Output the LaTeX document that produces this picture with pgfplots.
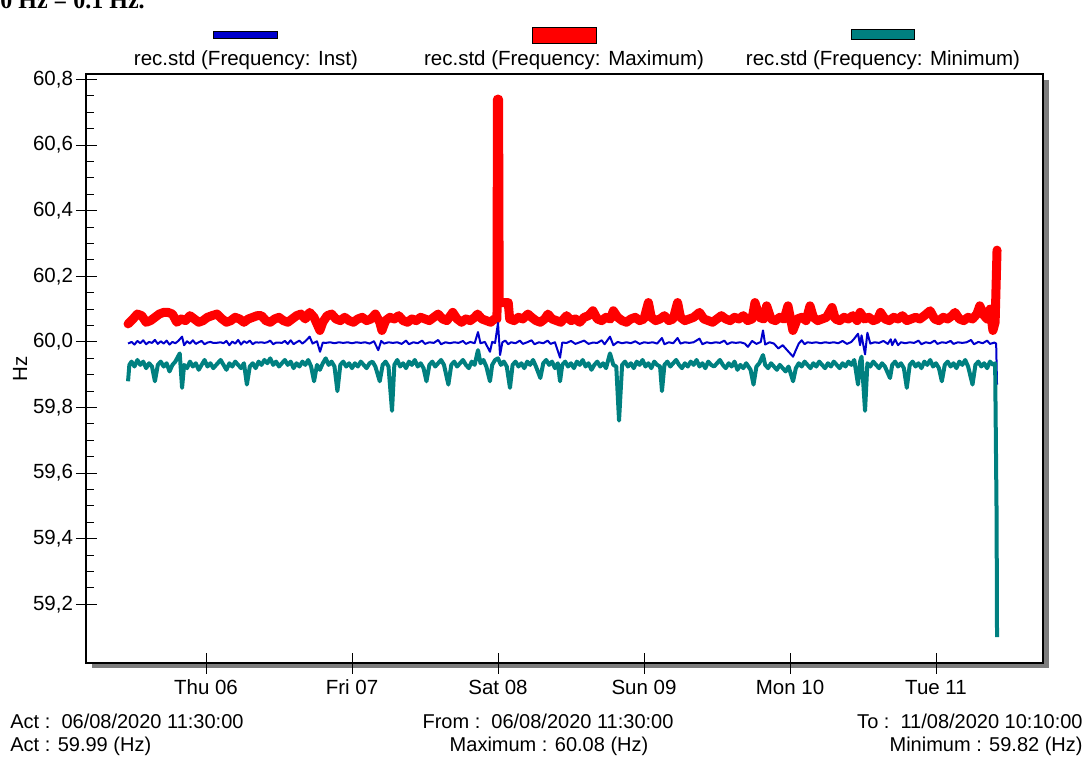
\documentclass[border=0pt]{standalone}
\usepackage{fontspec}
\setmainfont{Liberation Sans}
\newfontfamily\serifbold{Liberation Serif}
\usepackage{pgfplots}
\pgfplotsset{compat=1.18}
\usepackage{pgfplotstable}
\definecolor{instblue}{RGB}{0,0,204}
\definecolor{maxred}{RGB}{255,0,0}
\definecolor{minteal}{RGB}{0,128,128}
\definecolor{shadowgray}{RGB}{125,125,125}

\pgfplotstableread{
x y
5.466 60.055
5.50 60.07
5.53 60.085
5.56 60.08
5.59 60.06
5.62 60.065
5.65 60.075
5.68 60.085
5.71 60.09
5.74 60.09
5.77 60.085
5.80 60.06
5.83 60.07
5.86 60.065
5.89 60.08
5.92 60.07
5.95 60.06
5.98 60.065
6.01 60.075
6.04 60.08
6.075 60.085
6.11 60.07
6.14 60.06
6.17 60.065
6.20 60.075
6.23 60.07
6.26 60.06
6.29 60.07
6.32 60.075
6.35 60.08
6.38 60.08
6.41 60.065
6.44 60.06
6.47 60.07
6.50 60.075
6.53 60.065
6.56 60.06
6.59 60.07
6.62 60.08
6.65 60.085
6.68 60.07
6.71 60.09
6.74 60.075
6.78 60.035
6.80 60.06
6.83 60.08
6.86 60.085
6.89 60.07
6.92 60.065
6.95 60.075
6.98 60.065
7.01 60.06
7.04 60.07
7.07 60.075
7.10 60.065
7.13 60.07
7.16 60.085
7.19 60.06
7.205 60.035
7.23 60.065
7.26 60.075
7.29 60.07
7.32 60.08
7.35 60.065
7.38 60.06
7.41 60.07
7.44 60.065
7.47 60.075
7.50 60.07
7.53 60.065
7.56 60.075
7.59 60.085
7.62 60.07
7.65 60.065
7.69 60.09
7.72 60.07
7.75 60.06
7.78 60.07
7.81 60.065
7.84 60.075
7.86 60.085
7.89 60.07
7.92 60.065
7.95 60.06
7.975 60.07
7.993 60.07
7.996 60.74
8.004 60.74
8.008 60.12
8.07 60.12
8.08 60.07
8.11 60.065
8.14 60.075
8.17 60.07
8.205 60.085
8.23 60.075
8.26 60.065
8.29 60.06
8.32 60.07
8.342 60.085
8.37 60.07
8.40 60.065
8.43 60.06
8.47 60.08
8.50 60.065
8.53 60.07
8.56 60.06
8.59 60.075
8.62 60.08
8.65 60.095
8.68 60.07
8.71 60.065
8.74 60.075
8.77 60.07
8.79 60.095
8.82 60.075
8.85 60.065
8.88 60.06
8.91 60.07
8.94 60.075
8.97 60.065
9.00 60.07
9.03 60.12
9.05 60.075
9.08 60.065
9.11 60.07
9.14 60.08
9.17 60.065
9.20 60.07
9.23 60.12
9.25 60.075
9.28 60.065
9.31 60.07
9.34 60.075
9.38 60.09
9.41 60.07
9.44 60.065
9.47 60.06
9.50 60.07
9.53 60.08
9.56 60.07
9.59 60.065
9.62 60.075
9.65 60.07
9.68 60.08
9.71 60.065
9.74 60.07
9.76 60.12
9.79 60.075
9.82 60.07
9.84 60.11
9.87 60.07
9.90 60.065
9.93 60.075
9.96 60.07
9.986 60.11
10.02 60.035
10.05 60.07
10.08 60.075
10.11 60.065
10.137 60.11
10.16 60.075
10.19 60.065
10.22 60.07
10.25 60.075
10.288 60.105
10.31 60.07
10.34 60.065
10.37 60.075
10.40 60.07
10.43 60.08
10.46 60.065
10.48 60.09
10.51 60.07
10.54 60.075
10.57 60.065
10.60 60.07
10.62 60.09
10.65 60.07
10.68 60.065
10.71 60.075
10.74 60.07
10.77 60.08
10.80 60.065
10.83 60.07
10.86 60.075
10.89 60.07
10.92 60.08
10.96 60.095
10.99 60.07
11.02 60.065
11.05 60.075
11.08 60.07
11.11 60.08
11.13 60.09
11.16 60.07
11.19 60.065
11.22 60.075
11.25 60.07
11.28 60.085
11.30 60.11
11.33 60.08
11.35 60.07
11.37 60.10
11.39 60.035
11.405 60.06
11.418 60.28
}\tmax

\pgfplotstableread{
x y
5.466 59.995
5.49 60.000
5.51 59.992
5.53 60.003
5.55 59.996
5.57 60.005
5.59 59.993
5.61 60.000
5.63 59.997
5.65 60.006
5.67 59.994
5.69 60.002
5.71 59.995
5.73 60.004
5.75 59.992
5.77 60.000
5.79 59.996
5.81 60.003
5.836 60.016
5.85 59.990
5.87 60.002
5.89 59.995
5.91 60.005
5.93 59.994
5.95 59.999
5.97 60.003
5.99 59.993
6.01 59.998
6.03 60.000
6.05 59.997
6.07 59.997
6.10 59.999
6.12 59.996
6.14 60.003
6.16 59.990
6.18 60.001
6.20 59.995
6.22 60.006
6.24 59.992
6.26 60.002
6.28 59.997
6.30 60.004
6.32 59.993
6.34 59.999
6.36 59.998
6.38 59.999
6.40 59.997
6.42 59.999
6.44 60.004
6.46 59.993
6.48 59.998
6.50 59.998
6.52 59.997
6.54 60.003
6.56 59.994
6.58 60.005
6.60 59.993
6.62 59.999
6.64 60.004
6.66 59.995
6.68 60.002
6.71 60.016
6.73 59.995
6.76 60.002
6.781 59.970
6.80 59.998
6.82 59.997
6.85 59.999
6.88 59.996
6.91 59.999
6.94 59.997
6.97 59.999
7.00 59.996
7.03 59.999
7.06 59.997
7.09 59.999
7.12 59.995
7.15 60.002
7.18 59.975
7.20 60.003
7.22 59.995
7.25 59.999
7.28 59.997
7.31 59.999
7.34 59.994
7.37 60.004
7.39 59.993
7.42 59.999
7.45 59.996
7.48 60.004
7.50 59.994
7.53 59.999
7.56 59.997
7.59 60.006
7.61 59.993
7.64 59.999
7.67 59.996
7.70 59.999
7.73 59.997
7.76 60.003
7.78 59.994
7.81 60.000
7.84 59.996
7.863 60.030
7.88 59.996
7.91 60.000
7.945 59.970
7.96 60.000
7.98 59.997
8.000 60.058
8.014 59.960
8.03 59.999
8.05 60.004
8.07 59.993
8.09 59.999
8.12 59.996
8.15 60.004
8.17 59.994
8.20 59.999
8.23 60.005
8.25 59.993
8.28 59.999
8.31 59.996
8.34 60.004
8.36 59.994
8.39 59.999
8.425 59.952
8.44 59.998
8.47 59.997
8.50 60.003
8.53 59.994
8.56 59.999
8.59 60.004
8.62 59.994
8.65 59.998
8.68 59.997
8.71 60.005
8.73 59.993
8.767 60.016
8.79 59.990
8.82 60.000
8.85 59.996
8.88 59.999
8.91 59.996
8.94 60.002
8.97 59.994
9.00 59.999
9.03 59.997
9.06 59.999
9.09 59.995
9.123 60.012
9.14 59.993
9.17 59.999
9.20 59.996
9.23 60.012
9.25 59.995
9.28 59.999
9.31 59.997
9.34 59.999
9.38 60.010
9.40 59.993
9.43 59.999
9.46 59.996
9.49 59.999
9.52 59.997
9.55 60.004
9.57 59.993
9.60 59.999
9.63 59.997
9.66 59.999
9.69 59.995
9.712 59.985
9.74 60.003
9.77 59.994
9.80 60.000
9.815 60.035
9.83 59.992
9.86 59.999
9.89 59.995
9.92 59.980
9.95 59.990
9.98 59.975
10.021 59.955
10.04 59.975
10.06 59.995
10.08 60.005
10.10 59.993
10.12 59.999
10.15 59.997
10.18 59.999
10.21 59.996
10.24 59.999
10.27 59.997
10.30 59.999
10.33 59.996
10.36 60.003
10.39 59.994
10.42 60.000
10.44 60.010
10.466 60.025
10.48 59.990
10.49 60.020
10.514 59.962
10.53 60.028
10.55 59.995
10.58 59.999
10.61 59.997
10.64 60.003
10.67 59.994
10.69 60.008
10.70 59.990
10.72 60.008
10.74 59.990
10.76 59.999
10.79 59.996
10.82 59.999
10.85 59.997
10.88 60.004
10.90 59.993
10.93 59.999
10.96 59.996
10.99 60.004
11.01 59.994
11.04 59.999
11.07 59.997
11.10 60.003
11.12 59.994
11.15 59.999
11.18 59.997
11.21 59.999
11.24 60.006
11.26 59.993
11.29 60.000
11.32 59.996
11.35 60.004
11.37 59.994
11.40 59.998
11.412 59.995
11.418 59.870
}\tinst

\pgfplotstableread{
x y
5.466 59.880
5.475 59.930
5.49 59.940
5.51 59.925
5.53 59.945
5.55 59.930
5.57 59.940
5.59 59.920
5.61 59.935
5.63 59.925
5.65 59.880
5.67 59.930
5.69 59.940
5.71 59.925
5.73 59.935
5.75 59.910
5.77 59.930
5.79 59.940
5.82 59.965
5.836 59.860
5.85 59.930
5.87 59.920
5.89 59.940
5.91 59.925
5.93 59.935
5.95 59.915
5.97 59.930
5.99 59.945
6.01 59.925
6.03 59.935
6.05 59.920
6.07 59.930
6.10 59.945
6.12 59.930
6.14 59.915
6.16 59.935
6.18 59.925
6.20 59.940
6.22 59.930
6.24 59.920
6.26 59.935
6.28 59.870
6.30 59.925
6.32 59.935
6.34 59.920
6.36 59.940
6.38 59.930
6.40 59.945
6.42 59.935
6.44 59.950
6.46 59.930
6.48 59.940
6.50 59.925
6.52 59.935
6.54 59.945
6.56 59.930
6.58 59.940
6.60 59.920
6.62 59.935
6.64 59.925
6.66 59.940
6.68 59.930
6.70 59.945
6.72 59.925
6.74 59.880
6.76 59.930
6.78 59.915
6.80 59.935
6.82 59.950
6.84 59.930
6.86 59.940
6.88 59.925
6.90 59.850
6.92 59.930
6.94 59.940
6.96 59.925
6.98 59.935
7.00 59.920
7.02 59.935
7.04 59.925
7.06 59.940
7.08 59.930
7.10 59.920
7.12 59.935
7.14 59.940
7.16 59.925
7.19 59.880
7.21 59.930
7.23 59.940
7.25 59.925
7.274 59.790
7.29 59.930
7.31 59.945
7.33 59.925
7.35 59.935
7.37 59.920
7.39 59.940
7.41 59.930
7.43 59.945
7.45 59.925
7.47 59.935
7.49 59.920
7.51 59.880
7.53 59.930
7.55 59.940
7.57 59.925
7.59 59.935
7.61 59.945
7.63 59.930
7.66 59.870
7.68 59.930
7.70 59.940
7.72 59.925
7.74 59.935
7.76 59.945
7.78 59.930
7.80 59.920
7.82 59.940
7.84 59.930
7.863 59.975
7.88 59.935
7.90 59.945
7.92 59.925
7.945 59.880
7.96 59.930
7.98 59.945
8.00 59.950
8.02 59.930
8.04 59.940
8.06 59.925
8.082 59.860
8.10 59.930
8.12 59.940
8.14 59.925
8.16 59.935
8.18 59.920
8.20 59.940
8.22 59.930
8.24 59.945
8.26 59.925
8.29 59.890
8.31 59.935
8.33 59.945
8.35 59.930
8.37 59.940
8.39 59.920
8.41 59.935
8.425 59.880
8.44 59.930
8.46 59.940
8.48 59.925
8.50 59.935
8.52 59.920
8.54 59.940
8.56 59.930
8.58 59.945
8.60 59.925
8.62 59.935
8.64 59.915
8.66 59.930
8.68 59.940
8.70 59.925
8.72 59.935
8.74 59.920
8.767 59.965
8.79 59.930
8.81 59.925
8.829 59.760
8.85 59.930
8.87 59.940
8.89 59.925
8.91 59.935
8.93 59.920
8.95 59.940
8.97 59.930
8.99 59.945
9.01 59.925
9.03 59.935
9.05 59.920
9.07 59.940
9.09 59.930
9.11 59.925
9.123 59.850
9.14 59.930
9.16 59.940
9.18 59.925
9.20 59.935
9.22 59.945
9.24 59.930
9.26 59.920
9.28 59.935
9.30 59.925
9.32 59.940
9.34 59.930
9.36 59.945
9.38 59.925
9.40 59.935
9.42 59.920
9.44 59.940
9.46 59.930
9.48 59.925
9.50 59.935
9.52 59.945
9.54 59.930
9.56 59.920
9.58 59.935
9.60 59.925
9.62 59.940
9.64 59.915
9.66 59.930
9.68 59.920
9.70 59.935
9.73 59.915
9.75 59.870
9.77 59.925
9.79 59.935
9.815 59.960
9.83 59.930
9.85 59.920
9.87 59.935
9.89 59.925
9.91 59.915
9.93 59.930
9.95 59.920
9.97 59.910
9.99 59.925
10.021 59.880
10.04 59.920
10.06 59.935
10.08 59.925
10.10 59.940
10.12 59.930
10.14 59.920
10.16 59.935
10.18 59.925
10.20 59.940
10.22 59.930
10.24 59.920
10.26 59.935
10.28 59.925
10.30 59.940
10.32 59.930
10.34 59.920
10.36 59.935
10.38 59.925
10.40 59.940
10.42 59.930
10.44 59.945
10.466 59.870
10.48 59.940
10.49 59.955
10.514 59.790
10.53 59.935
10.55 59.925
10.57 59.940
10.59 59.930
10.61 59.920
10.63 59.935
10.65 59.925
10.685 59.890
10.70 59.930
10.72 59.940
10.74 59.925
10.76 59.935
10.78 59.920
10.80 59.860
10.82 59.930
10.84 59.940
10.86 59.925
10.88 59.935
10.90 59.920
10.92 59.940
10.94 59.930
10.96 59.945
10.98 59.925
11.00 59.935
11.02 59.920
11.04 59.880
11.06 59.930
11.08 59.940
11.10 59.925
11.12 59.935
11.14 59.920
11.16 59.940
11.18 59.930
11.20 59.945
11.22 59.925
11.25 59.870
11.27 59.930
11.29 59.940
11.31 59.925
11.33 59.935
11.35 59.920
11.37 59.940
11.39 59.930
11.405 59.935
11.415 59.470
11.418 59.100
}\tmin

\tikzset{px/.style={shift={(-43pt,331.5pt)}, x=0.5pt, y=-0.5pt}}

\begin{document}
\begin{tikzpicture}
% drop shadow of the plot frame
\begin{scope}[px]
\fill[shadowgray] (1044,80) rectangle (1049,668);
\fill[shadowgray] (92,664) rectangle (1049,668);
\end{scope}

\begin{axis}[
  at={(0,0)}, anchor=south west,
  scale only axis,
  width=478.5pt, height=294.5pt,
  xmin=5.178, xmax=11.733,
  ymin=59.021, ymax=60.817,
  axis line style={line width=1.2pt, black},
  xtick={6,7,8,9,10,11},
  xticklabels={Thu 06, Fri 07, Sat 08, Sun 09, Mon 10, Tue 11},
  ytick={59.2,59.4,59.6,59.8,60.0,60.2,60.4,60.6,60.8},
  minor y tick num=3,
  xtick pos=bottom, ytick pos=left,
  tick align=inside,
  every tick/.style={black, line width=0.5pt},
  major tick length=10.5pt,
  minor tick length=4pt,
  every major y tick/.append style={xshift=-5pt},
  every major x tick/.append style={yshift=-5.5pt},
  tick label style={font=\fontsize{10.25}{12}\selectfont, black},
  /pgf/number format/assume math mode=true,
  y tick label style={xshift=-3pt, /pgf/number format/.cd, fixed, fixed zerofill, precision=1, use comma},
  x tick label style={yshift=-5pt},
  ylabel={Hz},
  every axis y label/.style={at={(axis description cs:-0.069,0.5)}, rotate=90, anchor=center, font=\fontsize{10.25}{12}\selectfont},
]
\addplot[maxred, line width=4.5pt, line join=round, line cap=round] table[x=x,y=y] {\tmax};
\addplot[instblue, line width=1pt, line join=round] table[x=x,y=y] {\tinst};
\addplot[minteal, line width=2pt, line join=round] table[x=x,y=y] {\tmin};
\end{axis}

\begin{scope}[px, every node/.style={inner sep=0pt, font=\fontsize{10.25}{12}\selectfont}]
% legend
\draw[fill=instblue, line width=0.5pt] (213,32) rectangle (277,39);
\draw[fill=maxred, line width=0.5pt] (532,28) rectangle (596,44);
\draw[fill=minteal, line width=0.5pt] (851,30) rectangle (914,40);
\node at (246,60) {rec.std (Frequency: Inst)};
\node at (564,60) {rec.std (Frequency: Maximum)};
\node at (883,60) {rec.std (Frequency: Minimum)};
% footer
\begin{scope}[every node/.style={inner sep=0pt, font=\fontsize{10}{12}\selectfont}]
\node[anchor=base west] at (10,729) {Act :\ \ 06/08/2020 11:30:00};
\node[anchor=base west] at (10,752) {Act : 59.99 (Hz)};
\node[anchor=base] at (548,729) {From :\ \ 06/08/2020 11:30:00};
\node[anchor=base] at (549,752) {Maximum : 60.08 (Hz)};
\node[anchor=base east] at (1083,729) {To :\ \ 11/08/2020 10:10:00};
\node[anchor=base east] at (1083,752) {Minimum : 59.82 (Hz)};
\end{scope}
% cut-off text line above the chart
\node[anchor=base west, font=\serifbold\bfseries\fontsize{12}{14}\selectfont] at (-12,9) {60 Hz = 0.1 Hz.};
\end{scope}

\pgfresetboundingbox
\path[px, use as bounding box] (0,0) rectangle (1090,758);
\end{tikzpicture}
\end{document}
